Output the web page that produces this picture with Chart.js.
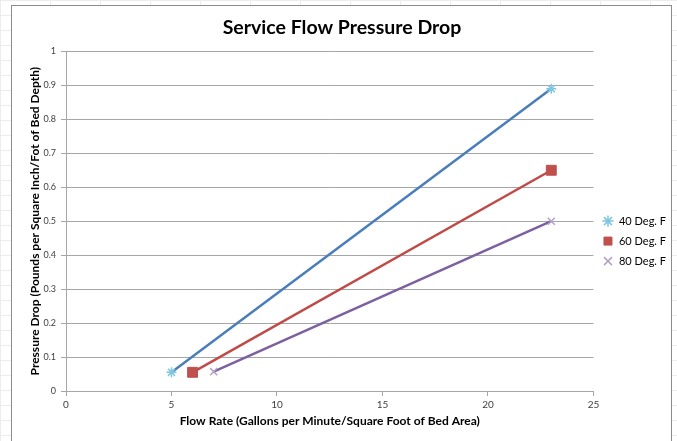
<!DOCTYPE html>
<html>
<head>
<meta charset="utf-8">
<script src="https://cdn.jsdelivr.net/npm/chart.js@4"></script>
<style>
    html, body {
        margin: 0;
        padding: 0;
        width: 677px;
        height: 441px;
        overflow: hidden;
        background-color: #fff;
        background-image:
            linear-gradient(to right, #ececec 1px, transparent 1px),
            linear-gradient(to bottom, #ececec 1px, transparent 1px);
        background-size: 50px 15px;
    }
    #frame {
        position: absolute;
        left: 11px;
        top: 5px;
        width: 659px;
        height: 460px;
        border: 1px solid #8c8c8c;
        background: #fff;
    }
    #pressureChart {
        position: absolute;
        left: 0;
        top: 0;
    }
</style>
</head>
<body>
<div id="frame"></div>
<canvas id="pressureChart" width="677" height="441"></canvas>
<script>
// Данные графика

const seriesNames = ['40 Deg. F', '60 Deg. F', '80 Deg. F'];

const flow40 = [5, 23];
const drop40 = [0.055, 0.89];

const flow60 = [6, 23];
const drop60 = [0.055, 0.65];

const flow80 = [7, 23];
const drop80 = [0.057, 0.5];

const xTicksStep = 5;
const yTicksStep = 0.1;

function toPoints(xs, ys) {
    return xs.map((x, i) => ({ x: x, y: ys[i] }));
}

const fontFamily = 'Lato, "Open Sans", sans-serif';

function renderPressureChart() {
    const ctx = document.getElementById('pressureChart').getContext('2d');

    new Chart(ctx, {
        type: 'scatter',
        data: {
            datasets: [{
                label: seriesNames[0],
                data: toPoints(flow40, drop40),
                showLine: true,
                borderColor: '#4A7EBB',
                borderWidth: 2.5,
                pointStyle: 'star',
                pointRadius: 5,
                pointBorderWidth: 1.5,
                pointBorderColor: '#7FC6DE',
                pointBackgroundColor: '#7FC6DE'
            }, {
                label: seriesNames[1],
                data: toPoints(flow60, drop60),
                showLine: true,
                borderColor: '#BE4B48',
                borderWidth: 2.5,
                pointStyle: 'rect',
                pointRadius: 7,
                pointBorderWidth: 1,
                pointBorderColor: '#C0504D',
                pointBackgroundColor: '#C0504D'
            }, {
                label: seriesNames[2],
                data: toPoints(flow80, drop80),
                showLine: true,
                borderColor: '#7D60A0',
                borderWidth: 2.5,
                pointStyle: 'crossRot',
                pointRadius: 5,
                pointBorderWidth: 1.5,
                pointBorderColor: '#B3A2C7',
                pointBackgroundColor: '#B3A2C7'
            }]
        },
        options: {
            responsive: false,
            animation: false,
            layout: {
                padding: { left: 8, right: 1, top: 0, bottom: 8 }
            },
            scales: {
                x: {
                    type: 'linear',
                    min: 0,
                    max: 25,
                    afterFit: scale => { scale.height = 42; },
                    ticks: {
                        stepSize: xTicksStep,
                        padding: 3,
                        color: '#404040',
                        font: { family: fontFamily, size: 10 }
                    },
                    grid: {
                        drawOnChartArea: false,
                        drawTicks: true,
                        tickLength: 5,
                        color: '#A6A6A6'
                    },
                    border: { color: '#A6A6A6' },
                    title: {
                        display: true,
                        text: 'Flow Rate (Gallons per Minute/Square Foot of Bed Area)',
                        color: '#000',
                        padding: { top: 0, bottom: 5 },
                        font: { family: fontFamily, size: 12, weight: 'bold' }
                    }
                },
                y: {
                    min: 0,
                    max: 1,
                    afterFit: scale => { scale.width = 58; },
                    ticks: {
                        stepSize: yTicksStep,
                        padding: 5,
                        color: '#404040',
                        font: { family: fontFamily, size: 9 },
                        callback: value => String(+value.toFixed(1))
                    },
                    grid: {
                        color: '#A6A6A6',
                        tickLength: 5
                    },
                    border: { color: '#A6A6A6' },
                    title: {
                        display: true,
                        text: 'Pressure Drop (Pounds per Square Inch/Fot of Bed Depth)',
                        color: '#000',
                        padding: { top: 20, bottom: 0 },
                        font: { family: fontFamily, size: 12, weight: 'bold' }
                    }
                }
            },
            plugins: {
                title: {
                    display: true,
                    text: 'Service Flow Pressure Drop',
                    color: '#000',
                    padding: { top: 16, bottom: 12 },
                    font: { family: fontFamily, size: 19.5, weight: 'bold' }
                },
                legend: {
                    display: true,
                    position: 'right',
                    title: {
                        display: true,
                        text: ' ',
                        padding: { top: 0, bottom: 36 },
                        font: { family: fontFamily, size: 11 }
                    },
                    labels: {
                        usePointStyle: true,
                        boxWidth: 12,
                        boxHeight: 8,
                        padding: 9,
                        color: '#000',
                        font: { family: fontFamily, size: 11 }
                    }
                },
                tooltip: { enabled: false }
            }
        }
    });
}

renderPressureChart();
</script>
</body>
</html>
